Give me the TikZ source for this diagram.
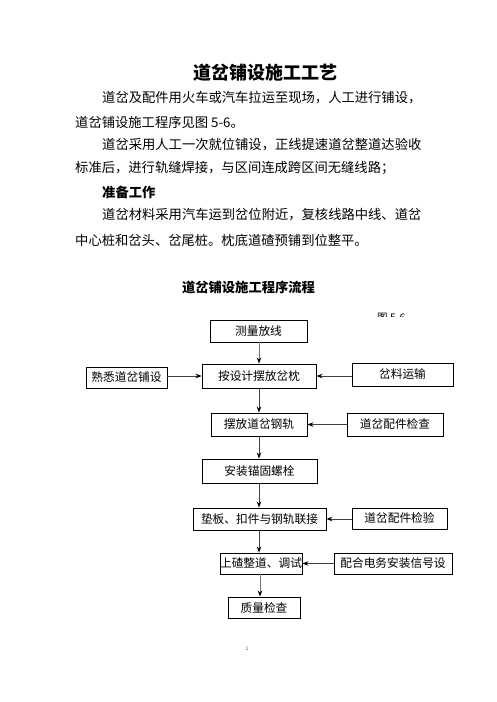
\documentclass[tikz,border=0pt]{standalone}
\usepackage{fontspec}
\setmainfont{Noto Sans CJK SC}
\usetikzlibrary{arrows.meta}
\begin{document}
\begin{tikzpicture}[x=1pt,y=-1pt,
  bodytext/.style={anchor=west,inner sep=0pt,font=\fontsize{13.3}{15}\selectfont},
  flowbox/.style={draw,line width=0.9pt,inner sep=0pt,font=\fontsize{11.7}{13}\selectfont},
  flowarrow/.style={draw=black!75,line width=0.9pt,-{Stealth[length=6pt,width=4.5pt,color=black]}}]
\useasboundingbox[fill=white] (0,0) rectangle (496,702);
% heading and body text
\node[inner sep=0pt,font=\fontsize{18}{20}\selectfont\bfseries] (title) at (265,73) {道岔铺设施工工艺};
\node[bodytext] (l1) at (102,98) {道岔及配件用火车或汽车拉运至现场，人工进行铺设，};
\node[bodytext] (l2) at (75,122) {道岔铺设施工程序见图 5-6。};
\node[bodytext] (l3) at (102,145) {道岔采用人工一次就位铺设，正线提速道岔整道达验收};
\node[bodytext] (l4) at (75,168) {标准后，进行轨缝焊接，与区间连成跨区间无缝线路；};
\node[bodytext,font=\fontsize{13.3}{15}\selectfont\bfseries] (l5) at (102,192) {准备工作};
\node[bodytext] (l6) at (102,215) {道岔材料采用汽车运到岔位附近，复核线路中线、道岔};
\node[bodytext] (l7) at (75,240) {中心桩和岔头、岔尾桩。枕底道碴预铺到位整平。};
\node[inner sep=0pt,font=\fontsize{13.3}{15}\selectfont\bfseries] (ftitle) at (248.5,287) {道岔铺设施工程序流程};
% clipped figure label
\begin{scope}
\clip (370,305) rectangle (420,316.5);
\node[anchor=west,inner sep=0pt,font=\fontsize{10.5}{12}\selectfont] (figlab) at (377,318) {图 5-6};
\end{scope}
% boxes
\node[flowbox,minimum width=97pt,minimum height=22pt] (a) at (258.5,331) {测量放线};
\node[flowbox,minimum width=81pt,minimum height=21pt] (b) at (126.5,377.5) {熟悉道岔铺设};
\node[flowbox,minimum width=114pt,minimum height=24pt] (c) at (259,376) {按设计摆放岔枕};
\node[flowbox,minimum width=101pt,minimum height=23pt] (d) at (402.5,374.5) {岔料运输};
\node[flowbox,minimum width=96pt,minimum height=23pt] (e) at (259,424.5) {摆放道岔钢轨};
\node[flowbox,minimum width=96pt,minimum height=23pt] (f) at (395,424.5) {道岔配件检查};
\node[flowbox,minimum width=115pt,minimum height=24pt] (g) at (259.5,471) {安装锚固螺栓};
\node[flowbox,minimum width=133pt,minimum height=22pt] (h) at (259.5,519) {垫板、扣件与钢轨联接};
\node[flowbox,minimum width=95pt,minimum height=21pt] (i) at (399.5,518.5) {道岔配件检验};
\node[flowbox,minimum width=80pt,minimum height=21pt] (j) at (261,563.5) {上碴整道、调试};
\node[flowbox,minimum width=118pt,minimum height=21pt] (k) at (393,563.5) {配合电务安装信号设};
\node[flowbox,minimum width=72pt,minimum height=21pt] (l) at (264,607.5) {质量检查};
% spine
\coordinate (sp) at (259,0);
\coordinate (sp2) at (260,0);
\draw[flowarrow,draw=black!55] (a.south -| sp) -- (c.north -| sp);
\draw[flowarrow] (c.south -| sp) -- (e.north -| sp);
\draw[flowarrow] (e.south -| sp) -- (g.north -| sp);
\draw[flowarrow] (g.south -| sp) -- (h.north -| sp);
\draw[flowarrow] (h.south -| sp) -- (j.north -| sp);
\draw[flowarrow,draw=black!55] (j.south -| sp2) -- (l.north -| sp2);
% side arrows
\draw[flowarrow] (b.east |- c.west) -- (c.west);
\draw[flowarrow] (d.west |- c.east) -- (c.east);
\draw[flowarrow] (f.west |- e.east) -- (e.east);
\draw[flowarrow] (i.west |- h.east) -- (h.east);
\draw[flowarrow] (k.west |- j.east) -- (j.east);
% page number
\node[inner sep=0pt,font=\fontsize{5}{6}\selectfont,text=black!70] (pg) at (247,649) {1};
\end{tikzpicture}
\end{document}
